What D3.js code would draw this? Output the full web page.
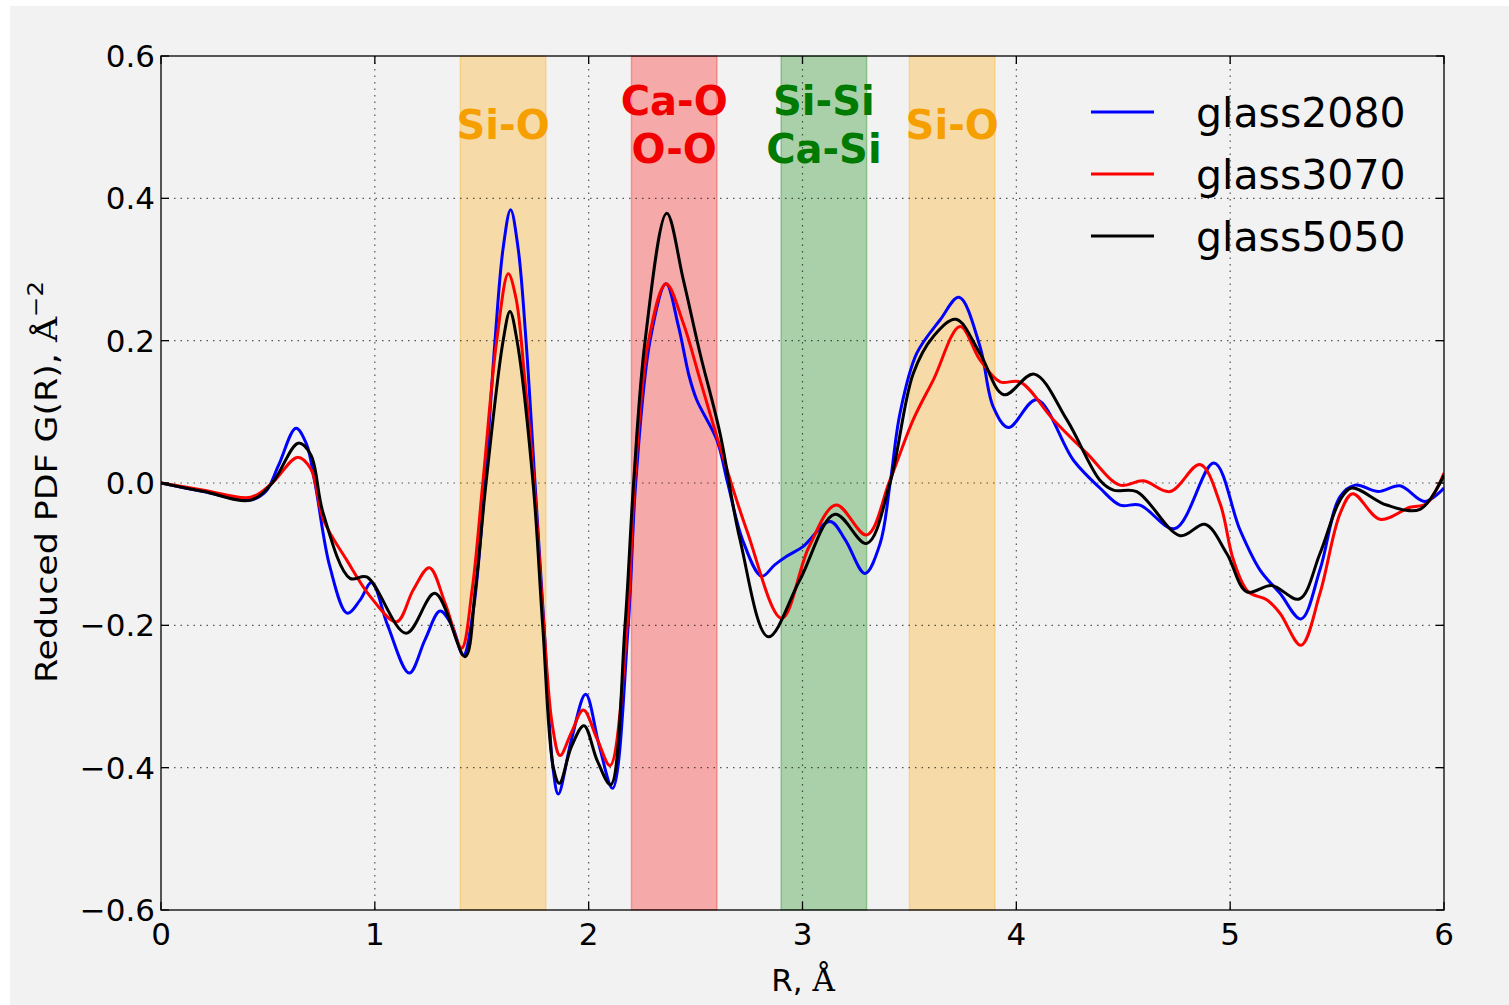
<!DOCTYPE html>
<html>
<head>
<meta charset="utf-8">
<script src="https://cdn.jsdelivr.net/npm/d3@7"></script>
<style>
  html, body { margin: 0; padding: 0; background: #ffffff; }
  svg { display: block; font-family: "DejaVu Sans", sans-serif; }
</style>
</head>
<body>
<svg id="chart" width="1509" height="1005"></svg>
<script>
// Reduced PDF curves: [R (Å), G(R)]
const glass2080 = [
  [0, 0], [0.2, -0.012], [0.416, -0.024], [0.49, -0.012], [0.55, 0.025], [0.631, 0.077],
  [0.68, 0.055], [0.72, 0.0], [0.79, -0.118], [0.871, -0.183], [0.93, -0.165], [0.985, -0.14],
  [1.06, -0.2], [1.161, -0.267], [1.235, -0.22], [1.305, -0.18], [1.36, -0.2], [1.414, -0.242],
  [1.46, -0.18], [1.515, 0.0], [1.562, 0.2], [1.6, 0.33], [1.635, 0.384], [1.67, 0.33],
  [1.707, 0.2], [1.749, 0.0], [1.791, -0.2], [1.833, -0.4], [1.858, -0.437], [1.92, -0.36],
  [1.986, -0.297], [2.05, -0.37], [2.112, -0.429], [2.185, -0.2], [2.22, 0.0], [2.287, 0.2],
  [2.362, 0.28], [2.42, 0.22], [2.47, 0.15], [2.505, 0.117], [2.6, 0.06], [2.65, 0.0],
  [2.72, -0.08], [2.809, -0.131], [2.87, -0.115], [2.926, -0.103], [3.004, -0.089], [3.129, -0.054],
  [3.2, -0.08], [3.292, -0.127], [3.363, -0.085], [3.41, 0.0], [3.456, 0.098], [3.534, 0.182],
  [3.643, 0.229], [3.732, 0.261], [3.83, 0.192], [3.892, 0.107], [3.963, 0.078], [4.095, 0.117],
  [4.267, 0.032], [4.391, -0.007], [4.485, -0.031], [4.578, -0.031], [4.742, -0.064], [4.924, 0.028],
  [5.046, -0.066], [5.139, -0.122], [5.233, -0.155], [5.331, -0.191], [5.42, -0.122], [5.514, -0.019],
  [5.584, -0.003], [5.693, -0.012], [5.794, -0.004], [5.911, -0.026], [6, -0.007]
];
const glass3070 = [
  [0, 0], [0.2, -0.01], [0.42, -0.02], [0.52, 0.0], [0.638, 0.036], [0.7, 0.02],
  [0.76, -0.052], [0.868, -0.108], [0.98, -0.16], [1.102, -0.195], [1.18, -0.15], [1.255, -0.119],
  [1.33, -0.17], [1.406, -0.232], [1.455, -0.15], [1.505, 0.0], [1.57, 0.2], [1.624, 0.294],
  [1.66, 0.26], [1.7, 0.15], [1.745, 0.0], [1.79, -0.2], [1.83, -0.34], [1.866, -0.383],
  [1.92, -0.35], [1.975, -0.319], [2.04, -0.36], [2.1, -0.397], [2.18, -0.2], [2.215, 0.0],
  [2.28, 0.2], [2.362, 0.28], [2.443, 0.224], [2.521, 0.145], [2.614, 0.051], [2.739, -0.066],
  [2.903, -0.19], [3.03, -0.09], [3.157, -0.031], [3.3, -0.073], [3.409, 0.004], [3.518, 0.089],
  [3.612, 0.145], [3.737, 0.22], [3.83, 0.173], [3.924, 0.142], [4.017, 0.142], [4.173, 0.089],
  [4.329, 0.042], [4.485, -0.003], [4.594, 0.003], [4.719, -0.012], [4.859, 0.026], [4.953, -0.029],
  [5.015, -0.108], [5.085, -0.153], [5.171, -0.164], [5.233, -0.183], [5.331, -0.228], [5.42, -0.155],
  [5.514, -0.043], [5.573, -0.015], [5.701, -0.051], [5.841, -0.034], [5.919, -0.029], [6, 0.014]
];
const glass5050 = [
  [0, 0], [0.2, -0.012], [0.42, -0.024], [0.52, 0.0], [0.642, 0.056], [0.7, 0.04],
  [0.758, -0.042], [0.884, -0.134], [0.962, -0.132], [1.146, -0.211], [1.281, -0.155], [1.422, -0.244],
  [1.47, -0.15], [1.52, 0.0], [1.6, 0.2], [1.632, 0.241], [1.665, 0.2], [1.74, 0.0],
  [1.785, -0.2], [1.835, -0.4], [1.863, -0.422], [1.92, -0.37], [1.978, -0.341], [2.04, -0.39],
  [2.103, -0.424], [2.17, -0.2], [2.21, 0.0], [2.264, 0.2], [2.365, 0.379], [2.443, 0.285],
  [2.521, 0.182], [2.614, 0.07], [2.708, -0.08], [2.84, -0.216], [2.988, -0.136], [3.152, -0.044],
  [3.3, -0.085], [3.409, 0.0], [3.518, 0.154], [3.612, 0.206], [3.718, 0.23], [3.83, 0.182],
  [3.942, 0.124], [4.083, 0.153], [4.236, 0.089], [4.391, 0.004], [4.454, -0.01], [4.563, -0.012],
  [4.766, -0.074], [4.882, -0.058], [4.984, -0.099], [5.078, -0.153], [5.194, -0.144], [5.323, -0.163],
  [5.42, -0.099], [5.514, -0.024], [5.568, -0.007], [5.732, -0.031], [5.888, -0.037], [6, 0.011]
];

const seriesNames = ['glass2080', 'glass3070', 'glass5050'];
const seriesColors = ['#0000ff', '#ff0000', '#000000'];

// shaded bond ranges
const bandRanges = [[1.4, 1.8], [2.2, 2.6], [2.9, 3.3], [3.5, 3.9]];
const bandColors = ['orange', 'red', 'green', 'orange'];
const bandLabels = [['Si-O'], ['Ca-O', 'O-O'], ['Si-Si', 'Ca-Si'], ['Si-O']];
const bandTextColors = ['#f5a000', '#f00000', '#007a00', '#f5a000'];

const xTicks = [0, 1, 2, 3, 4, 5, 6];
const yTicks = [-0.6, -0.4, -0.2, 0.0, 0.2, 0.4, 0.6];

const margin = { left: 161, right: 1444, top: 56, bottom: 910 };

const svg = d3.select('#chart');
svg.append('rect').attr('x', 10).attr('y', 6).attr('width', 1499).attr('height', 999).attr('fill', '#f2f2f2');

const x = d3.scaleLinear().domain([0, 6]).range([margin.left, margin.right]);
const y = d3.scaleLinear().domain([-0.6, 0.6]).range([margin.bottom, margin.top]);

svg.append('defs').append('clipPath').attr('id', 'plotClip')
  .append('rect').attr('x', margin.left).attr('y', margin.top)
  .attr('width', margin.right - margin.left).attr('height', margin.bottom - margin.top);

// bands
const bands = svg.append('g');
bandRanges.forEach((b, i) => {
  bands.append('rect')
    .attr('x', x(b[0])).attr('y', margin.top)
    .attr('width', x(b[1]) - x(b[0])).attr('height', margin.bottom - margin.top)
    .attr('fill', bandColors[i]).attr('fill-opacity', 0.3)
    .attr('stroke', bandColors[i]).attr('stroke-opacity', 0.3).attr('stroke-width', 1.5);
});

// grid
const grid = svg.append('g').attr('stroke', '#000').attr('stroke-opacity', 0.65)
  .attr('stroke-width', 1.2).attr('stroke-dasharray', '1.5,5');
xTicks.slice(1, -1).forEach(t => grid.append('line').attr('x1', x(t)).attr('x2', x(t)).attr('y1', margin.top).attr('y2', margin.bottom));
yTicks.slice(1, -1).forEach(t => grid.append('line').attr('y1', y(t)).attr('y2', y(t)).attr('x1', margin.left).attr('x2', margin.right));

// curves
const line = d3.line().x(d => x(d[0])).y(d => y(d[1])).curve(d3.curveCatmullRom.alpha(0.5));
const curves = svg.append('g').attr('clip-path', 'url(#plotClip)');
[glass2080, glass3070, glass5050].forEach((s, i) => {
  curves.append('path').datum(s).attr('d', line)
    .attr('fill', 'none').attr('stroke', seriesColors[i]).attr('stroke-width', 3)
    .attr('stroke-linejoin', 'round');
});

// band labels
bandRanges.forEach((b, i) => {
  const cx = x((b[0] + b[1]) / 2);
  const lines = bandLabels[i];
  const baselines = lines.length === 1 ? [139] : [115, 163];
  lines.forEach((t, j) => {
    svg.append('text').attr('x', cx).attr('y', baselines[j])
      .attr('text-anchor', 'middle').attr('font-weight', 'bold').attr('font-size', 40)
      .attr('fill', bandTextColors[i]).text(t);
  });
});

// frame and inward ticks on all sides
const axes = svg.append('g').attr('stroke', '#000').attr('stroke-width', 1.3);
axes.append('rect').attr('x', margin.left).attr('y', margin.top)
  .attr('width', margin.right - margin.left).attr('height', margin.bottom - margin.top).attr('fill', 'none');
xTicks.forEach(t => {
  axes.append('line').attr('x1', x(t)).attr('x2', x(t)).attr('y1', margin.bottom).attr('y2', margin.bottom - 8);
  axes.append('line').attr('x1', x(t)).attr('x2', x(t)).attr('y1', margin.top).attr('y2', margin.top + 8);
});
yTicks.forEach(t => {
  axes.append('line').attr('y1', y(t)).attr('y2', y(t)).attr('x1', margin.left).attr('x2', margin.left + 8);
  axes.append('line').attr('y1', y(t)).attr('y2', y(t)).attr('x1', margin.right).attr('x2', margin.right - 8);
});

// tick labels
const fmtY = d => (d < 0 ? '\u2212' : '') + Math.abs(d).toFixed(1);
xTicks.forEach(t => {
  svg.append('text').attr('x', x(t)).attr('y', 945).attr('text-anchor', 'middle')
    .attr('font-size', 31).attr('fill', '#000').text(t);
});
yTicks.forEach(t => {
  svg.append('text').attr('x', 155).attr('y', y(t) + 11).attr('text-anchor', 'end')
    .attr('font-size', 31).attr('fill', '#000').text(fmtY(t));
});

// axis titles (Å set in serif like matplotlib mathtext)
const xLab = svg.append('text').attr('x', 803).attr('y', 991).attr('text-anchor', 'middle')
  .attr('font-size', 31).attr('fill', '#000');
xLab.append('tspan').text('R, ');
xLab.append('tspan').attr('font-family', '"DejaVu Serif", serif').text('Å');

const yLab = svg.append('text')
  .attr('transform', 'translate(57,482) rotate(-90) scale(1.16,1)')
  .attr('text-anchor', 'middle')
  .attr('font-size', 30).attr('fill', '#000');
yLab.append('tspan').text('Reduced PDF G(R), ');
yLab.append('tspan').attr('font-family', '"DejaVu Serif", serif').text('Å');
yLab.append('tspan').attr('dy', -14).attr('font-size', 21).text('\u22122');

// legend
seriesNames.forEach((name, i) => {
  const ly = 112 + i * 62;
  svg.append('line').attr('x1', 1091).attr('x2', 1154).attr('y1', ly).attr('y2', ly)
    .attr('stroke', seriesColors[i]).attr('stroke-width', 3);
  svg.append('text').attr('x', 1196).attr('y', ly + 15).attr('font-size', 41)
    .attr('fill', '#000').text(name);
});
</script>
</body>
</html>
